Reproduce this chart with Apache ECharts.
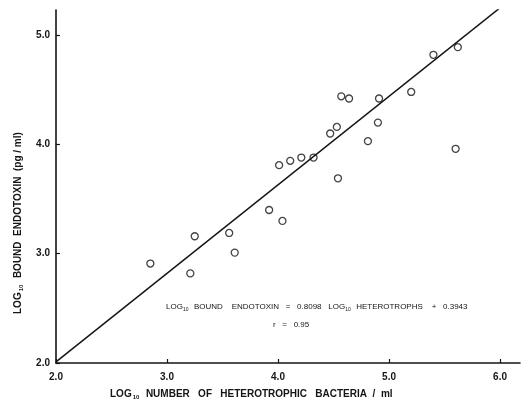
<!DOCTYPE html>
<html lang="en">

<head>
  <meta charset="UTF-8">
  <title>Bound endotoxin vs heterotrophic bacteria</title>
  <style>
    body { margin: 0; background: #fff; }
  </style>
</head>

<body>
  <div id="main" style="width: 523px;height: 402px;"></div>
</body>
<script src="https://cdn.jsdelivr.net/npm/echarts@6/dist/echarts.min.js"></script>
<script>
  // log10 heterotrophs / ml  vs  log10 bound endotoxin (pg/ml)
  var heteroX = [2.85, 3.21, 3.25, 3.56, 3.61, 3.92, 4.04, 4.01, 4.11, 4.21, 4.32, 4.54,
    4.47, 4.53, 4.57, 4.64, 4.81, 4.90, 4.91, 5.20, 5.40, 5.62, 5.60];
  var endoY = [2.91, 2.82, 3.16, 3.19, 3.01, 3.40, 3.30, 3.81, 3.85, 3.88, 3.88, 3.69,
    4.10, 4.16, 4.44, 4.42, 4.03, 4.20, 4.42, 4.48, 4.82, 4.89, 3.96];
  // regression line end points
  var fitX = [2.0, 6.0];
  var fitY = [2.01, 5.25];
  var xTicks = [2, 3, 4, 5, 6];
  var yTicks = [2, 3, 4, 5];

  var ink = '#151515';
  var font = 'Liberation Sans';

  var chartDom = document.getElementById('main');
  var myChart = echarts.init(chartDom);

  var points = heteroX.map(function (x, i) { return [x, endoY[i]]; });
  var fit = fitX.map(function (x, i) { return [x, fitY[i]]; });

  var axisCommon = {
    type: 'value',
    splitLine: { show: false },
    axisLine: { show: true, lineStyle: { color: ink, width: 1.6 } },
    axisTick: { show: true, inside: true, length: 4, lineStyle: { color: ink, width: 1.2 } },
    axisLabel: {
      color: ink, fontFamily: font, fontWeight: 'bold', fontSize: 10,
      formatter: function (v) { return v.toFixed(1); }
    }
  };

  var option = {
    animation: false,
    backgroundColor: '#fff',
    grid: { left: 56, right: 3, top: 10, bottom: 39 },
    xAxis: echarts.util.merge({
      min: 2, max: 6.18,
      axisTick: { customValues: xTicks },
      axisLabel: { customValues: xTicks, margin: 9 }
    }, axisCommon),
    yAxis: echarts.util.merge({
      min: 2, max: 5.23,
      axisTick: { customValues: yTicks },
      axisLabel: { customValues: yTicks, margin: 6 }
    }, axisCommon),
    series: [
      {
        type: 'line',
        data: fit,
        symbol: 'none',
        lineStyle: { color: ink, width: 1.5 },
        z: 1
      },
      {
        type: 'scatter',
        data: points,
        symbol: 'circle',
        symbolSize: 7,
        itemStyle: { color: 'rgba(255,255,255,0)', borderColor: ink, borderWidth: 1.3 },
        z: 2
      }
    ],
    graphic: [
      {
        type: 'text',
        left: 110, top: 389,
        style: {
          text: '{a|LOG}{s|10}{a|  NUMBER   OF   HETEROTROPHIC   BACTERIA  /  ml}',
          fill: ink,
          rich: {
            a: { fontFamily: font, fontSize: 10, fontWeight: 'bold', fill: ink },
            s: { fontFamily: font, fontSize: 6, fontWeight: 'bold', fill: ink, padding: [6, 1, 0, 1] }
          }
        }
      },
      {
        type: 'text',
        x: 12, y: 314,
        rotation: Math.PI / 2,
        style: {
          text: '{a|LOG}{s|10}{a|  BOUND  ENDOTOXIN  (pg / ml)}',
          fill: ink,
          rich: {
            a: { fontFamily: font, fontSize: 10, fontWeight: 'bold', fill: ink },
            s: { fontFamily: font, fontSize: 6, fontWeight: 'bold', fill: ink, padding: [6, 1, 0, 1] }
          }
        }
      },
      {
        type: 'text',
        left: 166, top: 303,
        style: {
          text: '{a|LOG}{s|10}{a|  BOUND    ENDOTOXIN   =   0.8098   LOG}{s|10}{a|  HETEROTROPHS    +   0.3943}',
          fill: ink,
          rich: {
            a: { fontFamily: font, fontSize: 8, fill: ink },
            s: { fontFamily: font, fontSize: 5, fill: ink, padding: [5, 1, 0, 0] }
          }
        }
      },
      {
        type: 'text',
        left: 273, top: 321,
        style: {
          text: 'r   =   0.95',
          fill: ink,
          fontFamily: font,
          fontSize: 8
        }
      }
    ]
  };

  option && myChart.setOption(option);
</script>

</html>
